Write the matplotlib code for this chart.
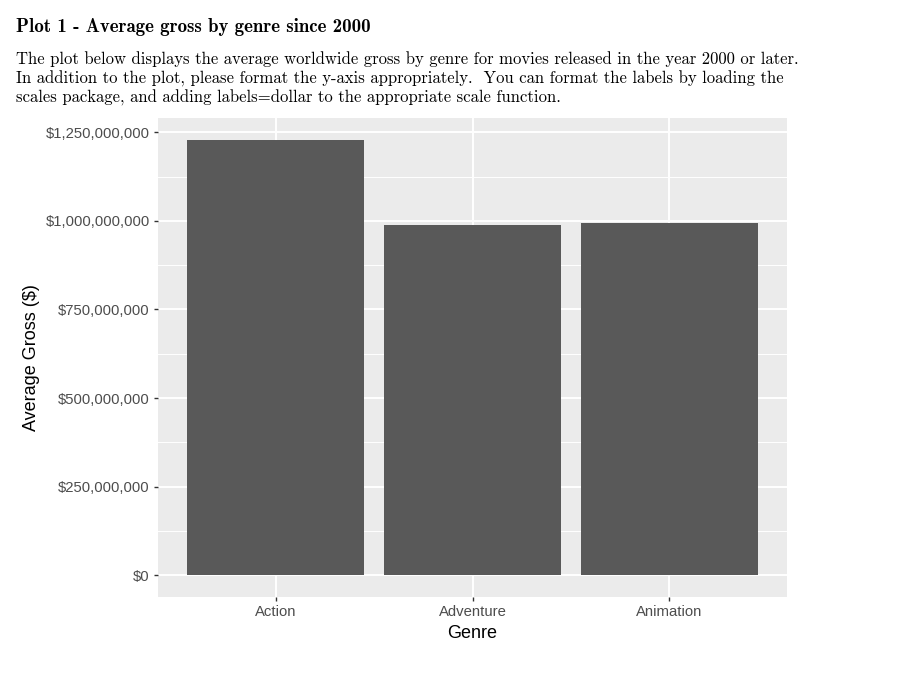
import matplotlib
matplotlib.use("Agg")
import matplotlib.pyplot as plt
from matplotlib.ticker import FuncFormatter, FixedLocator

genres = ["Action", "Adventure", "Animation"]
avg_gross = [1229000000, 989000000, 993000000]
yticks = [0, 250000000, 500000000, 750000000, 1000000000, 1250000000]

title = "Plot 1 - Average gross by genre since 2000"
para = ["The plot below displays the average worldwide gross by genre for movies released in the year 2000 or later.",
        "In addition to the plot, please format the y-axis appropriately.  You can format the labels by loading the",
        "scales package, and adding labels=dollar to the appropriate scale function."]

fig = plt.figure(figsize=(9.02, 6.76), dpi=100)
fig.text(16/902, 1-27/676, title, fontfamily="cmb10", fontsize=13.6, va="center", ha="left")
for i, line in enumerate(para):
    fig.text(16/902, 1-(59+19.5*i)/676, line, fontfamily="cmr10", fontsize=12.0, va="center", ha="left")

ax = fig.add_axes([158/902, 79/676, (787-158)/902, (597-118)/676])
ax.set_facecolor("#EBEBEB")
x = list(range(len(genres)))
ax.bar(x, avg_gross, width=0.9, color="#595959", zorder=3)
ax.set_xlim(-0.6, len(genres)-0.4)
ymax = max(avg_gross)
ax.set_ylim(-0.05*ymax, 1.05*ymax)
ax.yaxis.set_major_locator(FixedLocator(yticks))
ax.yaxis.set_minor_locator(FixedLocator([v+125000000 for v in yticks]))
ax.yaxis.set_major_formatter(FuncFormatter(lambda v, p: "${:,.0f}".format(v)))
ax.set_xticks(x)
ax.set_xticklabels(genres)
ax.grid(True, which="major", color="white", linewidth=1.4, zorder=1)
ax.grid(True, which="minor", axis="y", color="white", linewidth=0.7, zorder=1)
for s in ax.spines.values():
    s.set_visible(False)
ax.tick_params(axis="both", which="major", length=3, width=1, color="#333333",
               labelcolor="#4D4D4D", labelsize=10.7, labelfontfamily="Liberation Sans", pad=3)
ax.tick_params(axis="x", which="major", pad=2.5)
ax.tick_params(axis="y", which="minor", length=0)
ax.set_xlabel("Genre", fontfamily="Liberation Sans", fontsize=13, labelpad=4.5)
ax.set_ylabel("Average Gross ($)", fontfamily="Liberation Sans", fontsize=13, labelpad=4)
fig.savefig("out.png", dpi=100)
